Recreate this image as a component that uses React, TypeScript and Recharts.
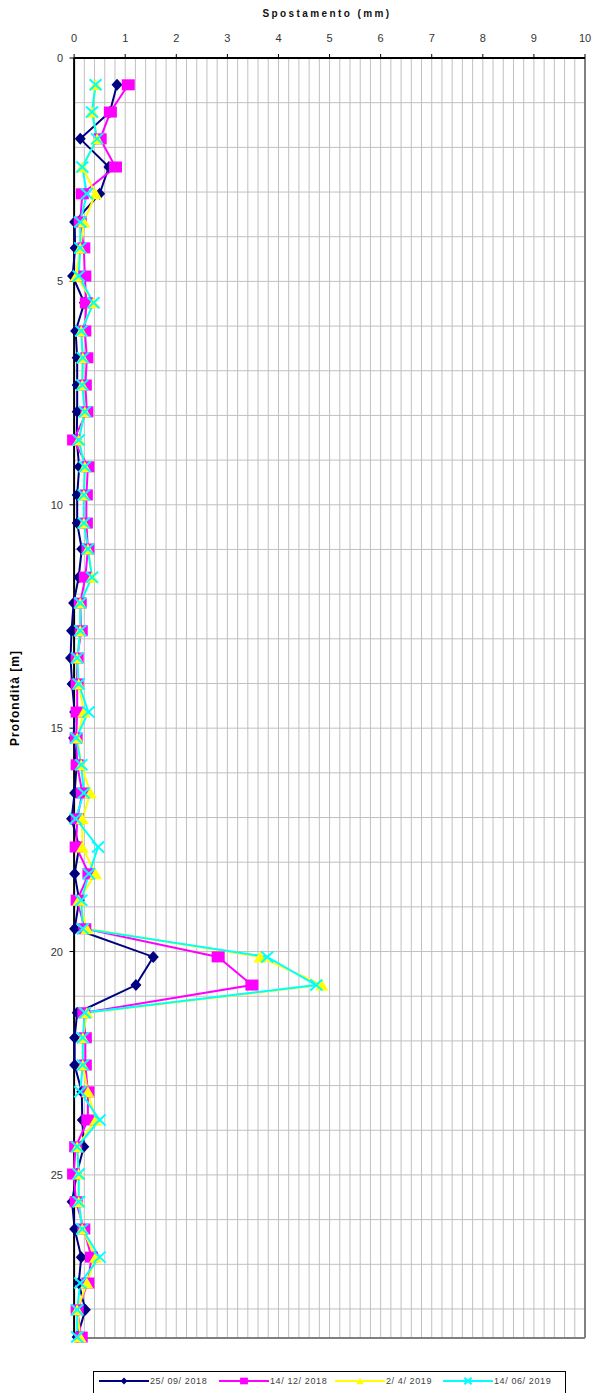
import React from 'react';
import { LineChart, Line, XAxis, YAxis, CartesianGrid, ReferenceLine } from 'recharts';

// Depth of each reading (m)
const depths = [0.6, 1.21, 1.81, 2.44, 3.04, 3.67, 4.25, 4.88, 5.48, 6.11, 6.71, 7.32, 7.92, 8.55, 9.15, 9.78, 10.41, 10.99, 11.62, 12.2, 12.82, 13.43, 14.01, 14.64, 15.22, 15.82, 16.45, 17.03, 17.66, 18.26, 18.85, 19.49, 20.12, 20.75, 21.37, 21.93, 22.54, 23.14, 23.77, 24.37, 24.98, 25.6, 26.21, 26.84, 27.42, 28.02, 28.63];

// Displacement (mm) per survey
const serie1 = [0.84, 0.7, 0.12, 0.68, 0.5, 0.01, 0.02, -0.03, 0.2, 0.03, 0.06, 0.06, 0.06, 0.05, 0.1, 0.06, 0.06, 0.15, 0.09, -0.01, -0.05, -0.07, -0.04, 0.01, -0.01, 0.05, 0.01, -0.05, 0.1, 0.01, 0.1, 0.01, 1.55, 1.21, 0.06, 0.01, 0.01, 0.15, 0.16, 0.19, 0.05, -0.04, 0.01, 0.14, 0.09, 0.22, 0.06];
const serie2 = [1.06, 0.71, 0.51, 0.81, 0.16, 0.12, 0.19, 0.21, 0.24, 0.21, 0.25, 0.22, 0.25, -0.01, 0.27, 0.24, 0.24, 0.27, 0.22, 0.12, 0.14, 0.06, 0.06, 0.06, 0.04, 0.06, 0.16, 0.06, 0.04, 0.29, 0.06, 0.21, 2.82, 3.48, 0.19, 0.22, 0.22, 0.27, 0.27, 0.03, -0.01, 0.04, 0.19, 0.34, 0.27, 0.06, 0.14];
const serie3 = [0.42, 0.35, 0.45, 0.16, 0.42, 0.19, 0.12, 0.04, 0.38, 0.14, 0.17, 0.16, 0.21, 0.09, 0.21, 0.19, 0.19, 0.27, 0.35, 0.12, 0.12, 0.06, 0.09, 0.19, 0.06, 0.14, 0.32, 0.16, 0.16, 0.42, 0.09, 0.25, 3.64, 4.85, 0.25, 0.17, 0.17, 0.27, 0.42, 0.06, 0.09, 0.09, 0.16, 0.42, 0.25, 0.06, 0.12];
const serie4 = [0.42, 0.35, 0.45, 0.16, 0.25, 0.12, 0.12, 0.09, 0.38, 0.14, 0.17, 0.16, 0.21, 0.09, 0.21, 0.19, 0.19, 0.27, 0.35, 0.12, 0.12, 0.06, 0.09, 0.28, 0.04, 0.14, 0.19, 0.03, 0.47, 0.29, 0.14, 0.17, 3.78, 4.74, 0.21, 0.17, 0.17, 0.12, 0.5, 0.06, 0.09, 0.09, 0.16, 0.5, 0.12, 0.06, 0.06];

const seriesKeys = ['s1', 's2', 's3', 's4'];
const seriesNames = ['25/ 09/ 2018', '14/ 12/ 2018', '2/ 4/ 2019', '14/ 06/ 2019'];
const seriesColors = ['#000080', '#FF00FF', '#FFFF00', '#00FFFF'];
const markerTypes = ['diamond', 'square', 'triangle', 'cross'];
const legendItemWidths = [120, 116, 108, 118];

const xTicks = [0, 1, 2, 3, 4, 5, 6, 7, 8, 9, 10];
const yTicks = [0, 5, 10, 15, 20, 25];
const xGridValues = [0.2, 0.4, 0.6, 0.8, 1, 1.2, 1.4, 1.6, 1.8, 2, 2.2, 2.4, 2.6, 2.8, 3, 3.2, 3.4, 3.6, 3.8, 4, 4.2, 4.4, 4.6, 4.8, 5, 5.2, 5.4, 5.6, 5.8, 6, 6.2, 6.4, 6.6, 6.8, 7, 7.2, 7.4, 7.6, 7.8, 8, 8.2, 8.4, 8.6, 8.8, 9, 9.2, 9.4, 9.6, 9.8];
const yGridValues = [1, 2, 3, 4, 5, 6, 7, 8, 9, 10, 11, 12, 13, 14, 15, 16, 17, 18, 19, 20, 21, 22, 23, 24, 25, 26, 27, 28];

const X_MIN = -0.1;
const X_MAX = 10;
const Y_MAX = 28.65;

const data = depths.map((d, i) => ({
  depth: d,
  s1: serie1[i],
  s2: serie2[i],
  s3: serie3[i],
  s4: serie4[i],
}));

const FONT = '"Liberation Sans", Arial, sans-serif';

function Marker({ type, cx, cy, color, scale = 1 }: { type: string; cx: number; cy: number; color: string; scale?: number }) {
  if (cx == null || cy == null) return null;
  if (type === 'diamond') {
    const w = 5.5 * scale, h = 6 * scale;
    return <polygon points={`${cx},${cy - h} ${cx + w},${cy} ${cx},${cy + h} ${cx - w},${cy}`} fill={color} />;
  }
  if (type === 'square') {
    const w = 6.5 * scale, h = 5.5 * scale;
    return <rect x={cx - w} y={cy - h} width={2 * w} height={2 * h} fill={color} />;
  }
  if (type === 'triangle') {
    const w = 6.5 * scale, h = 5.5 * scale;
    return <polygon points={`${cx},${cy - h} ${cx + w},${cy + h} ${cx - w},${cy + h}`} fill={color} />;
  }
  const w = 6 * scale, h = 5.5 * scale;
  return (
    <g>
      <line x1={cx - w} y1={cy - h} x2={cx + w} y2={cy + h} stroke={color} strokeWidth={2} />
      <line x1={cx - w} y1={cy + h} x2={cx + w} y2={cy - h} stroke={color} strokeWidth={2} />
    </g>
  );
}

function makeDot(type: string, color: string) {
  return (props: any) => (
    <g key={`${type}-${props.index}`}>
      <Marker type={type} cx={props.cx} cy={props.cy} color={color} />
    </g>
  );
}

function XTick(props: any) {
  const { x, y, payload } = props;
  return (
    <text x={x} y={y} textAnchor="middle" fontSize={11} fill="#333" fontFamily={FONT}>
      {payload.value}
    </text>
  );
}

function YTick(props: any) {
  const { x, y, payload } = props;
  return (
    <text x={x} y={y} dy={4} textAnchor="end" fontSize={11} fill="#333" fontFamily={FONT}>
      {payload.value}
    </text>
  );
}

function LegendBox() {
  return (
    <div
      style={{
        position: 'absolute',
        left: 93,
        top: 1371,
        width: 473,
        height: 40,
        border: '1px solid #000',
        boxSizing: 'border-box',
        display: 'flex',
        alignItems: 'flex-start',
        paddingTop: 4,
        paddingLeft: 5,
        fontFamily: FONT,
        fontSize: 9,
        color: '#404040',
        letterSpacing: '0.6px',
        background: '#fff',
      }}
    >
      {seriesNames.map((n, i) => (
        <div key={n} style={{ display: 'flex', alignItems: 'center', width: legendItemWidths[i], flex: 'none', height: 10 }}>
          <svg width={50} height={10} style={{ display: 'block', flex: 'none' }}>
            <line x1={0} y1={5} x2={50} y2={5} stroke={seriesColors[i]} strokeWidth={2} />
            <Marker type={markerTypes[i]} cx={25} cy={5} color={seriesColors[i]} scale={0.6} />
          </svg>
          <span style={{ marginLeft: 1, lineHeight: '10px', whiteSpace: 'pre' }}>{n}</span>
        </div>
      ))}
    </div>
  );
}

export default function App() {
  return (
    <div style={{ position: 'absolute', left: 0, top: 0, width: 592, height: 1393, overflow: 'hidden', fontFamily: FONT, background: '#fff' }}>
      <LineChart
        width={592}
        height={1393}
        data={data}
        layout="vertical"
        margin={{ top: 0, right: 7, bottom: 55, left: 0 }}
        style={{ overflow: 'visible' }}
      >
        <CartesianGrid horizontal={false} verticalValues={xGridValues} stroke="#c0c0c0" />
        {yGridValues.map((v) => (
          <ReferenceLine key={`hg-${v}`} segment={[{ x: 0, y: v }, { x: X_MAX, y: v }]} stroke="#c0c0c0" strokeWidth={1} />
        ))}
        <ReferenceLine x={X_MAX} stroke="#808080" strokeWidth={2} />
        <ReferenceLine segment={[{ x: 0, y: Y_MAX }, { x: X_MAX, y: Y_MAX }]} stroke="#808080" strokeWidth={2} />
        <ReferenceLine x={0} stroke="#000" strokeWidth={2} />
        <ReferenceLine segment={[{ x: 0, y: 0 }, { x: X_MAX, y: 0 }]} stroke="#000" strokeWidth={2} />
        {yTicks.map((t) => (
          <ReferenceLine key={`yt-${t}`} segment={[{ x: -0.09, y: t }, { x: 0, y: t }]} stroke="#000" strokeWidth={1} />
        ))}
        <XAxis
          type="number"
          orientation="top"
          domain={[X_MIN, X_MAX]}
          ticks={xTicks}
          interval={0}
          height={58}
          axisLine={false}
          tickLine={{ stroke: '#000' }}
          tickSize={4}
          tickMargin={12}
          tick={<XTick />}
          label={(props: any) => {
            const vb = props.viewBox || { x: 69, width: 516 };
            return (
              <text
                x={vb.x + vb.width / 2}
                y={17}
                textAnchor="middle"
                fontSize={10}
                fontWeight="bold"
                letterSpacing={2.4}
                fill="#111"
                fontFamily={FONT}
              >
                Spostamento (mm)
              </text>
            );
          }}
        />
        <YAxis
          type="number"
          dataKey="depth"
          domain={[0, Y_MAX]}
          ticks={yTicks}
          interval={0}
          width={69}
          axisLine={false}
          tickLine={false}
          tickSize={4}
          tickMargin={2}
          tick={<YTick />}
          label={(props: any) => {
            const vb = props.viewBox || { x: 0, y: 58, height: 1280 };
            const cx = 15;
            const cy = vb.y + vb.height / 2;
            return (
              <text
                x={cx}
                y={cy}
                textAnchor="middle"
                dominantBaseline="central"
                transform={`rotate(-90 ${cx} ${cy})`}
                fontSize={12}
                fontWeight="bold"
                letterSpacing={1}
                fill="#000"
                fontFamily={FONT}
              >
                Profondità [m]
              </text>
            );
          }}
        />
        {seriesKeys.map((k, i) => (
          <Line
            key={k}
            type="linear"
            dataKey={k}
            name={seriesNames[i]}
            stroke={seriesColors[i]}
            strokeWidth={2}
            dot={makeDot(markerTypes[i], seriesColors[i])}
            activeDot={false}
            isAnimationActive={false}
          />
        ))}
      </LineChart>
      <LegendBox />
    </div>
  );
}
